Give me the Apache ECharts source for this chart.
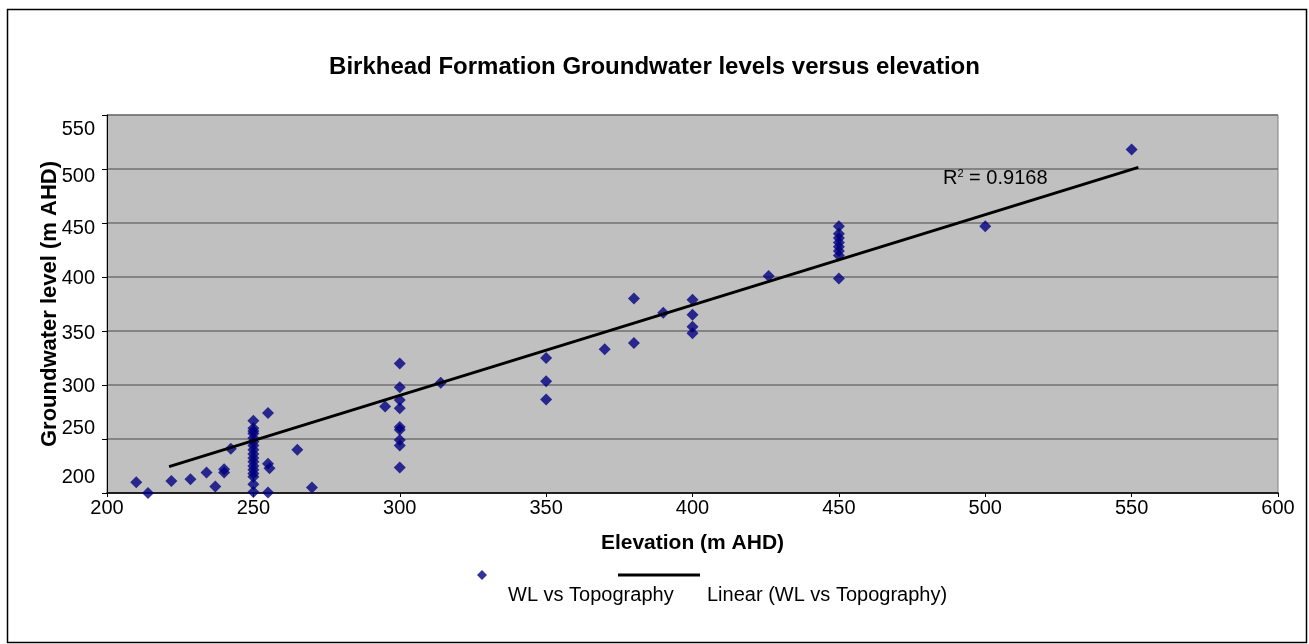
<!DOCTYPE html>
<html>
<head>
<meta charset="utf-8">
<script src="https://cdn.jsdelivr.net/npm/echarts@6/dist/echarts.min.js"></script>
<style>html,body{margin:0;padding:0;background:#fff}#c{width:1309px;height:644px}</style>
</head>
<body>
<div id="c"></div>
<script>
var titleText = 'Birkhead Formation Groundwater levels versus elevation';
var xName = 'Elevation (m AHD)';
var yName = 'Groundwater level (m AHD)';
var seriesName = 'WL vs Topography';
var trendName = 'Linear (WL vs Topography)';
var r2Text = '0.9168';
var xTicks = [200, 250, 300, 350, 400, 450, 500, 550, 600];
var yTicks = [200, 250, 300, 350, 400, 450, 500, 550];

var elevation = [210, 214, 222, 228.5, 234, 237, 240, 240, 242.3,
  250, 250, 250, 250, 250, 250, 250, 250, 250, 250, 250, 250, 250, 250, 250, 250, 250,
  255, 255, 255.5, 255, 265, 270,
  295, 300, 300, 300, 300, 300, 300, 300, 300, 300, 314,
  350, 350, 350, 370, 380, 380, 390, 400, 400, 400, 400, 426,
  450, 450, 450, 450, 450, 450, 450, 450, 500, 550];
var waterLevel = [210, 200, 211, 212.7, 219, 206, 222, 219, 241,
  267, 260, 257.5, 255, 251, 247.5, 244, 240, 236, 232.5, 229, 225, 221.5, 218, 215, 208, 201,
  274, 227, 223, 200.5, 240, 205,
  280, 320, 298, 286, 278.5, 261, 258.5, 249, 244, 223.5, 302,
  325, 303.5, 286.5, 333, 380, 339, 367, 379, 365, 354, 348, 401,
  447, 440, 436, 432, 428, 424, 420, 398.5, 447, 518];
var trendX = [221.2, 552.3];
var trendY = [224.4, 501.5];

var pts = elevation.map(function (x, i) { return [x, waterLevel[i]]; });
var trendPts = trendX.map(function (x, i) { return [x, trendY[i]]; });

// vertical label shift (px, + = down) to mimic the original label placement
var labelShift = {200: -16, 250: -11, 300: 1, 350: 2, 400: 1, 450: 5, 500: 7, 550: 14};
var rich = {};
yTicks.forEach(function (v) {
  var d = labelShift[v] || 0;
  rich['v' + v] = {
    fontFamily: 'Liberation Sans', fontSize: 20, color: '#000',
    padding: d >= 0 ? [2 * d, 0, 0, 0] : [0, 0, -2 * d, 0]
  };
});

var font = 'Liberation Sans';
// legend icons drawn above their text (marker at top of a taller, mostly empty box)
var diamondIcon = 'path://M5,0L10,5L5,10L0,5Z M5,50';
var lineIcon = 'path://M0,0L82,0L82,3L0,3Z M0,43';

var chart = echarts.init(document.getElementById('c'), null, {renderer: 'canvas'});
chart.setOption({
  backgroundColor: '#fff',
  animation: false,
  title: {
    text: titleText, left: 'center', top: 50,
    textStyle: {fontFamily: font, fontSize: 24, fontWeight: 'bold', color: '#000'}
  },
  grid: {
    left: 107, right: 31, top: 115, bottom: 151,
    show: true, backgroundColor: '#C0C0C0', borderColor: '#808080', borderWidth: 1
  },
  xAxis: {
    type: 'value', min: 200, max: 600, interval: 50,
    name: xName, nameLocation: 'middle', nameGap: 40, nameMoveOverlap: false,
    nameTextStyle: {fontFamily: font, fontSize: 21, fontWeight: 'bold', color: '#000'},
    axisLine: {show: true, lineStyle: {color: '#000', width: 1.5}},
    axisTick: {show: true, inside: false, length: 4, lineStyle: {color: '#000'}},
    axisLabel: {fontFamily: font, fontSize: 20, color: '#000', margin: 5,
      formatter: function (v) { return xTicks.indexOf(v) >= 0 ? String(v) : ''; }},
    splitLine: {show: false}
  },
  yAxis: {
    type: 'value', min: 200, max: 550, interval: 50,
    name: yName, nameLocation: 'middle', nameGap: 46, nameMoveOverlap: false,
    nameTextStyle: {fontFamily: font, fontSize: 22, fontWeight: 'bold', color: '#000'},
    axisLine: {show: true, lineStyle: {color: '#000', width: 1}},
    axisTick: {show: true, inside: false, length: 5, lineStyle: {color: '#000'}},
    axisLabel: {margin: 12,
      formatter: function (v) { return yTicks.indexOf(v) >= 0 ? '{v' + v + '|' + v + '}' : ''; },
      rich: rich},
    splitLine: {show: true, lineStyle: {color: '#707070', width: 1.5}}
  },
  legend: [
    {
      data: [seriesName], left: 472, top: 565, orient: 'horizontal',
      icon: diamondIcon, itemWidth: 10, itemHeight: 50,
      itemStyle: {color: '#000080'},
      textStyle: {fontFamily: font, fontSize: 20, color: '#000', padding: [0, 0, 0, 16]}
    },
    {
      data: [trendName], left: 613, top: 568.5, orient: 'horizontal',
      icon: lineIcon, itemWidth: 82, itemHeight: 43,
      itemStyle: {color: '#000'},
      textStyle: {fontFamily: font, fontSize: 20, color: '#000', padding: [0, 0, 0, 2]}
    }
  ],
  series: [
    {
      name: seriesName, type: 'scatter', data: pts, symbol: 'diamond', symbolSize: 12,
      clip: false, itemStyle: {color: '#000080'}, z: 3
    },
    {
      name: trendName, type: 'line', data: trendPts, showSymbol: false, symbol: 'none',
      lineStyle: {color: '#000', width: 3}, itemStyle: {color: '#000'}, z: 4, silent: true
    }
  ],
  graphic: [
    {
      type: 'rect', left: 5, top: 7, z: 100, silent: true,
      shape: {x: 0, y: 0, width: 1299, height: 633},
      style: {fill: 'none', stroke: '#000', lineWidth: 1.5}
    },
    {
      type: 'text', left: 943, top: 168, z: 100,
      style: {
        text: 'R{sup|2} = ' + r2Text,
        fontFamily: font, fontSize: 20, fill: '#000',
        rich: {sup: {fontFamily: font, fontSize: 11, verticalAlign: 'top', padding: [0, 0, 10, 0]}}
      }
    }
  ]
});
</script>
</body>
</html>
